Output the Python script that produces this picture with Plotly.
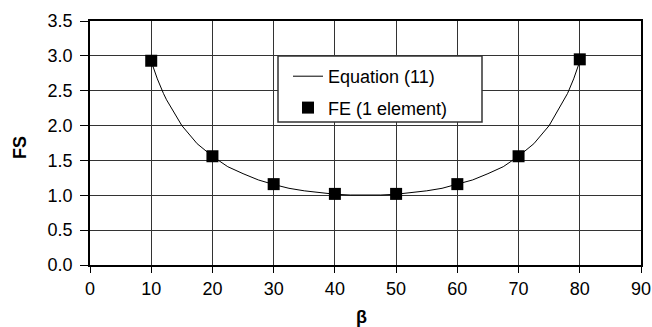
import plotly.graph_objects as go

# Curve "Equation (11)"
beta_curve = [10, 11, 12, 12.5, 15, 17.5, 20, 22.5, 25, 27.5, 30, 32.5, 35, 37.5, 40, 42.5, 45,
              47.5, 50, 52.5, 55, 57.5, 60, 62.5, 65, 67.5, 70, 72.5, 75, 77.5, 78, 79, 80]
fs_curve = [2.92, 2.67, 2.46, 2.37, 2.00, 1.74, 1.56, 1.41, 1.31, 1.22, 1.155, 1.10, 1.064, 1.035, 1.015, 1.004, 1.00,
            1.004, 1.015, 1.035, 1.064, 1.10, 1.155, 1.22, 1.31, 1.41, 1.56, 1.74, 2.00, 2.37, 2.46, 2.67, 2.92]

# FE (1 element) points
beta_fe = [10, 20, 30, 40, 50, 60, 70, 80]
fs_fe = [2.93, 1.56, 1.16, 1.02, 1.02, 1.16, 1.56, 2.95]

x_ticks = [0, 10, 20, 30, 40, 50, 60, 70, 80, 90]
y_ticks = [0.0, 0.5, 1.0, 1.5, 2.0, 2.5, 3.0, 3.5]

FONT = "Liberation Sans, Arial, sans-serif"
FS = 18

fig = go.Figure()
fig.add_trace(go.Scatter(x=beta_curve, y=fs_curve, mode="lines", name="Equation (11)",
                         line=dict(color="black", width=1), legendgroup="a"))
fig.add_trace(go.Scatter(x=beta_fe, y=fs_fe, mode="markers", name="FE (1 element)",
                         marker=dict(symbol="square", size=12, color="black"), legendgroup="b"))

W, H = 652, 327
L, T = 90, 21
R = W - 641
B = H - 265
pw, ph = W - L - R, H - T - B

def px(xp):
    return (xp - L) / pw

def py(yp):
    return (H - B - yp) / ph

fig.add_shape(type="rect", xref="paper", yref="paper",
              x0=px(278), x1=px(482), y0=py(122), y1=py(56),
              line=dict(color="#333333", width=1.5), fillcolor="white", layer="above")

fig.add_annotation(xref="paper", yref="paper", x=px(20), y=py(148), text="<b>FS</b>",
                   xanchor="center", yanchor="middle",
                   textangle=-90, showarrow=False, font=dict(family=FONT, size=FS, color="black"))
fig.add_annotation(xref="paper", yref="paper", x=px(361), y=py(317), text="<b>β</b>",
                   xanchor="center", yanchor="middle",
                   showarrow=False, font=dict(family=FONT, size=FS, color="black"))

fig.update_layout(
    width=W, height=H,
    margin=dict(l=L, r=R, t=T, b=B, autoexpand=False),
    plot_bgcolor="white", paper_bgcolor="white",
    font=dict(family=FONT, size=FS, color="black"),
    showlegend=True,
    legend=dict(x=px(288), y=py(58), xanchor="left", yanchor="top",
                bgcolor="rgba(0,0,0,0)", borderwidth=0,
                font=dict(family=FONT, size=FS, color="black"),
                tracegroupgap=5),
    xaxis=dict(range=[0, 90], tickvals=x_ticks, ticktext=[str(v) for v in x_ticks],
               showgrid=True, gridcolor="#333333", gridwidth=1,
               showline=True, linecolor="black", linewidth=1.5, mirror=True,
               ticks="outside", ticklen=6, tickcolor="black", zeroline=False,
               automargin=False, tickfont=dict(size=FS), ticklabelstandoff=1),
    yaxis=dict(range=[0, 3.5], tickvals=y_ticks, ticktext=[f"{v:.1f}" for v in y_ticks],
               showgrid=True, gridcolor="#333333", gridwidth=1,
               showline=True, linecolor="black", linewidth=1.5, mirror=True,
               ticks="outside", ticklen=8, tickcolor="black", zeroline=False,
               automargin=False, tickfont=dict(size=FS), ticklabelstandoff=4),
)

fig.write_html("out.html", config={"displayModeBar": False},
               post_script="document.body.style.margin='0';document.body.style.overflow='hidden';")
